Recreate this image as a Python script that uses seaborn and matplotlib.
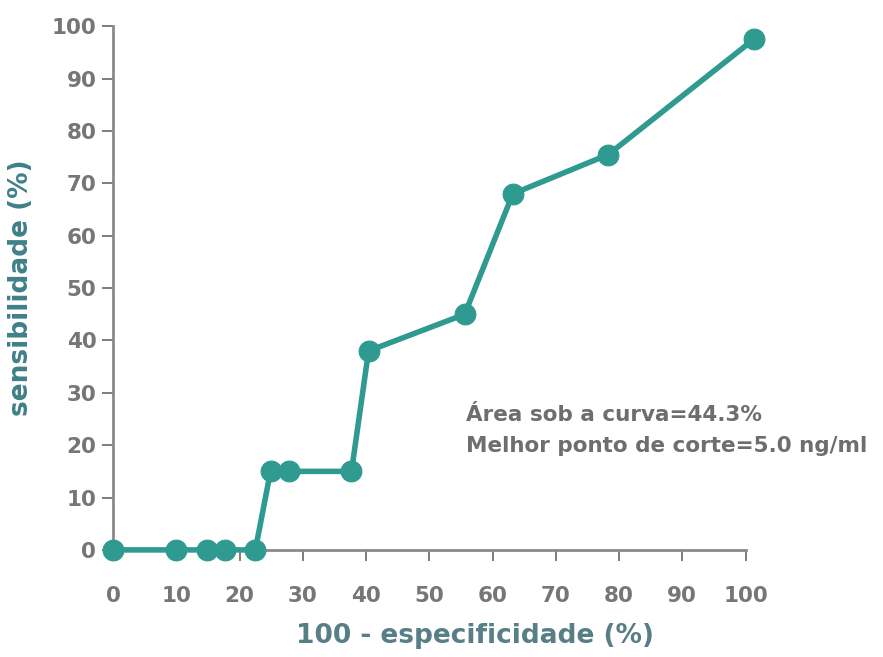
import numpy as np
import pandas as pd
import seaborn as sns
import matplotlib.pyplot as plt

sns.set_style("white")
plt.rcParams['font.family'] = ['DejaVu Sans']

# 100 - especificidade (%) and sensibilidade (%)
fpr = [0, 9.9, 14.8, 17.7, 22.5, 24.9, 27.8, 37.7, 40.4, 55.6, 63.2, 78.3, 101.4]
tpr = [0, 0, 0, 0, 0, 15, 15, 15, 38, 45, 68, 75.5, 97.6]
xticks = [0, 10, 20, 30, 40, 50, 60, 70, 80, 90, 100]
yticks = [0, 10, 20, 30, 40, 50, 60, 70, 80, 90, 100]

df = pd.DataFrame({'fpr': fpr, 'tpr': tpr})

teal = '#2e9a90'
grey = '#767676'

fig = plt.figure(figsize=(8.83, 6.57), dpi=100)
ax = fig.add_axes([0.128, 0.163, 0.745, 0.797])

sns.lineplot(data=df, x='fpr', y='tpr', sort=False, color=teal, lw=4,
             marker='o', markersize=15, markeredgecolor=teal, ax=ax)
for l in ax.lines:
    l.set_clip_on(False)
    l.set_zorder(5)

ax.set_xlim(0, 104)
ax.set_ylim(0, 100)
ax.set_xticks(xticks)
ax.set_yticks(yticks)
ax.spines['top'].set_visible(False)
ax.spines['right'].set_visible(False)
ax.spines['bottom'].set_bounds(0, 100)
for s in ['left', 'bottom']:
    ax.spines[s].set_color('#8a8a8a')
    ax.spines[s].set_linewidth(2)
ax.tick_params(axis='both', direction='out', length=8, width=1.2, color='#666666',
               labelsize=15.5, labelcolor=grey, bottom=True, left=True)
ax.tick_params(axis='y', pad=4)
ax.tick_params(axis='x', pad=18)
for t in ax.get_xticklabels() + ax.get_yticklabels():
    t.set_fontweight('bold')

ax.set_xlabel('100 - especificidade (%)', fontsize=19, fontweight='bold', color='#587f86')
ax.set_ylabel('sensibilidade (%)', fontsize=19, fontweight='bold', color='#3f8088')
ax.xaxis.set_label_coords(0.55, -0.14)
ax.yaxis.set_label_coords(-0.12, 0.5)

ax.text(0.537, 0.228, 'Área sob a curva=44.3%\nMelhor ponto de corte=5.0 ng/ml',
        transform=ax.transAxes, fontsize=15.5, fontweight='bold', color='#6e6e6e',
        linespacing=1.7, va='center', ha='left')

fig.savefig('out.png', dpi=100)
